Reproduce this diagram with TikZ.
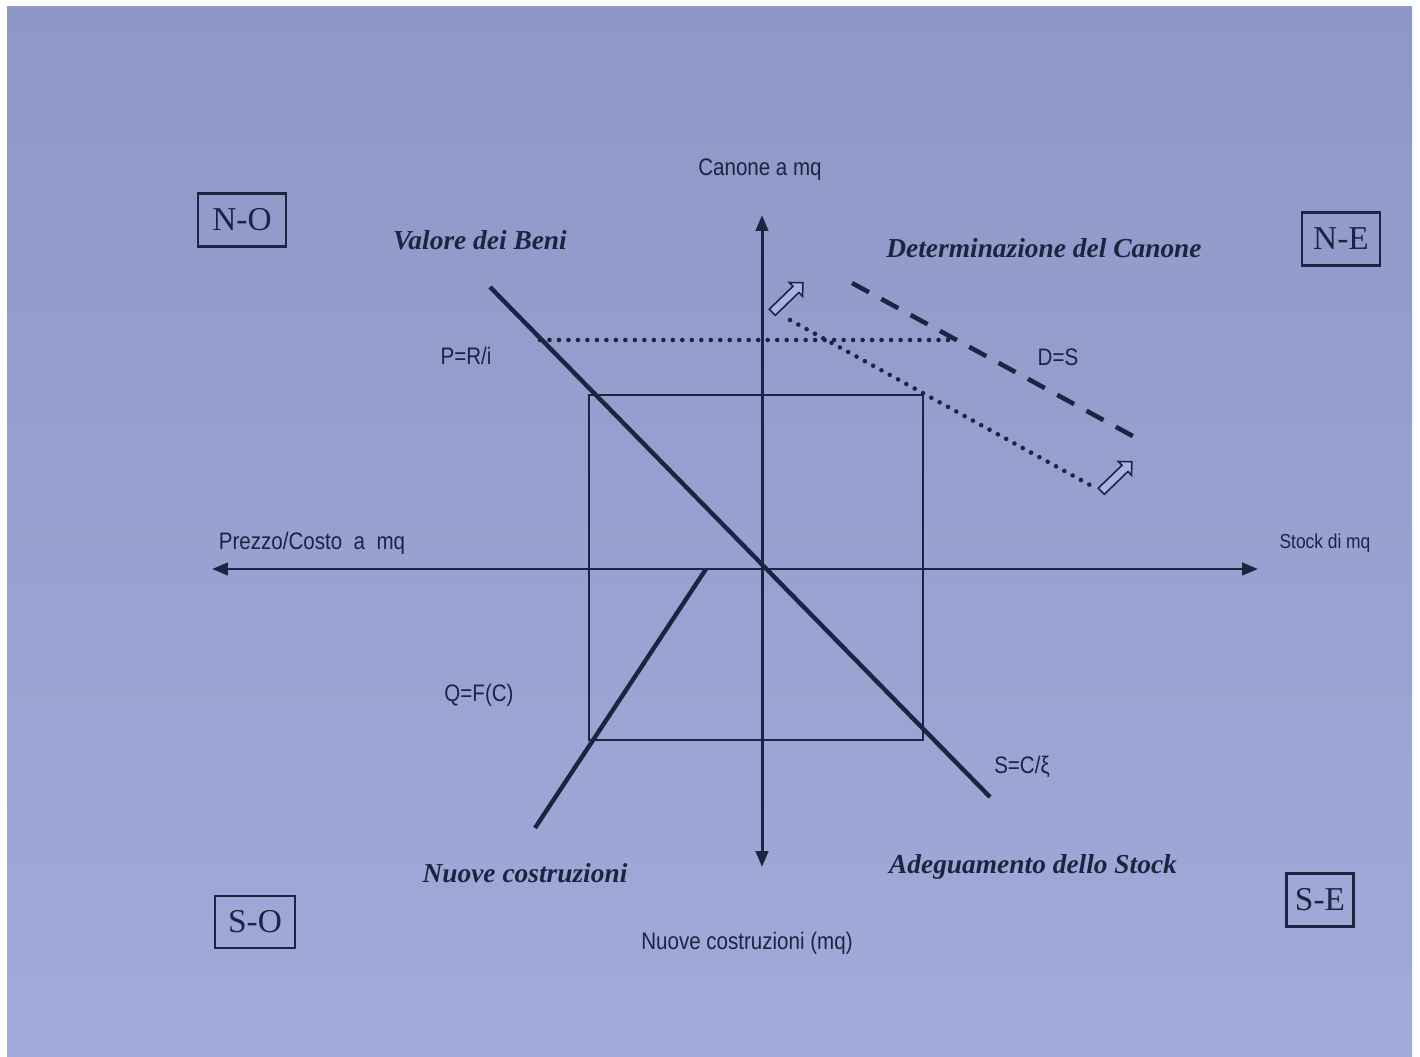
\documentclass[tikz,border=0pt]{standalone}
\usepackage{fontspec}
\setmainfont{Liberation Serif}
\newfontfamily\axisfont[FakeStretch=0.86]{Liberation Sans}
\usetikzlibrary{arrows.meta,shapes.arrows}
\definecolor{paperblue}{HTML}{A1ABD9}
\definecolor{paperlight}{HTML}{AAB4DF}
\definecolor{paperdark}{HTML}{8D98C6}
\definecolor{inkblue}{HTML}{1F2342}

\tikzset{
  axis/.style={draw=inkblue, line width=1.7pt, {Triangle[length=9pt,width=7pt]}-{Triangle[length=9pt,width=7pt]}},
  curve/.style={draw=inkblue, line width=2.5pt},
  frameline/.style={draw=inkblue, line width=1.2pt},
  dotline/.style={draw=inkblue, line width=2.6pt, line cap=round, dash pattern=on 0pt off 5.4pt},
  dashline/.style={draw=inkblue, line width=2.6pt, dash pattern=on 11pt off 8pt},
  quadbox/.style={draw=inkblue, line width=1.3pt, text=inkblue, font=\fontsize{19}{21}\selectfont, inner sep=0pt},
  axislabel/.style={text=inkblue, font=\axisfont\fontsize{13.6}{15}\selectfont, inner sep=1pt},
  title/.style={text=inkblue, font=\bfseries\itshape\fontsize{15.6}{18}\selectfont, inner sep=1pt},
  shiftarrow/.style={single arrow, draw=inkblue, fill=paperlight, line width=0.9pt, minimum height=0.85cm, inner sep=2pt, single arrow head extend=3pt, rotate=44}
}

\begin{document}
\begin{tikzpicture}[x=0.02cm,y=-0.02cm]
  % page
  \fill[white] (0,0) rectangle (1420,1057);
  \shade[top color=paperdark, middle color=paperlight, bottom color=paperblue] (7,7) rectangle (1412,1057);
  \useasboundingbox (0,0) rectangle (1420,1057);

  % points
  \coordinate (O) at (762,569);
  \coordinate (top) at (762,215);
  \coordinate (bot) at (762,867);
  \coordinate (left) at (212,569);
  \coordinate (right) at (1258,569);
  \coordinate (vb1) at (490,287);
  \coordinate (vb2) at (990,797);
  \coordinate (rNW) at (589,395);
  \coordinate (rSE) at (923,740);
  \coordinate (qa) at (706,569);
  \coordinate (qb) at (535,828);
  \coordinate (pr) at (540,340);
  \coordinate (pe) at (955,340);
  \coordinate (d1) at (790,320);
  \coordinate (d2) at (1090,485);
  \coordinate (n1) at (852,283);
  \coordinate (n2) at (1140,440);

  % axes and curves
  \draw[axis] (left) -- (right);
  \draw[axis] (bot) -- (top);
  \draw[frameline] (rNW) rectangle (rSE);
  \draw[curve] (vb1) -- (vb2);
  \draw[curve] (qa) -- (qb);
  \draw[dotline] (pr) -- (pe);
  \draw[dotline] (d1) -- (d2);
  \draw[dashline] (n1) -- (n2);
  \node[shiftarrow] (shiftA) at (786,299) {};
  \node[shiftarrow] (shiftB) at (1115,478) {};

  % quadrants
  \node[quadbox, minimum width=1.76cm, minimum height=1.06cm] (NO) at (242,220) {N-O};
  \node[quadbox, minimum width=1.56cm, minimum height=1.06cm] (NE) at (1341,239) {N-E};
  \node[quadbox, minimum width=1.6cm, minimum height=1.04cm] (SO) at (255,922) {S-O};
  \node[quadbox, minimum width=1.34cm, minimum height=1.06cm] (SE) at (1320,900) {S-E};

  % labels
  \node[axislabel] (canone) at (760,170) {Canone a mq};
  \node[axislabel] (prezzo) at (312,543) {Prezzo/Costo\ \ a\ \ mq};
  \node[axislabel, font=\axisfont\fontsize{11.5}{13}\selectfont] (stock) at (1325,543) {Stock di mq};
  \node[axislabel] (nuovemq) at (747,943) {Nuove costruzioni (mq)};
  \node[axislabel] (pri) at (466,356) {P=R/i};
  \node[axislabel] (ds) at (1058,357) {D=S};
  \node[axislabel] (qfc) at (479,695) {Q=F(C)};
  \node[axislabel] (scx) at (1022,767) {S=C/ξ};
  \node[title] (valore) at (480,240) {Valore dei Beni};
  \node[title] (determ) at (1044,248) {Determinazione del Canone};
  \node[title] (nuove) at (525,873) {Nuove costruzioni};
  \node[title] (adegua) at (1033,867) {Adeguamento dello Stock};
\end{tikzpicture}
\end{document}
